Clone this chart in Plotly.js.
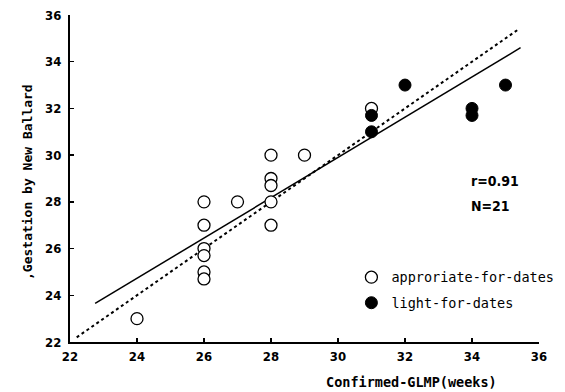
<!DOCTYPE html>
<html>
<head>
<meta charset="utf-8">
<script src="https://cdn.plot.ly/plotly-3.0.1.min.js"></script>
<style>html,body{margin:0;padding:0;background:#fff;}#chart{width:565px;height:392px;}</style>
</head>
<body>
<div id="chart"></div>
<script>
// Data
const approX = [24, 26, 26, 26, 26, 26, 26, 27, 28, 28, 28, 28, 28, 29, 31];
const approY = [23, 28, 27, 26, 25.7, 25, 24.7, 28, 30, 29, 28.7, 28, 27, 30, 32];
const lightX = [31, 31, 32, 34, 34, 35];
const lightY = [31.7, 31, 33, 32, 31.7, 33];
const fitX = [22.75, 35.45];
const fitY = [23.65, 34.6];
const identX = [22.2, 35.4];
const identY = [22.2, 35.4];
const tickVals = [22, 24, 26, 28, 30, 32, 34, 36];
const seriesNames = ['approriate-for-dates', 'light-for-dates'];
const statText = ['r=0.91', 'N=21'];
const xTitle = 'Confirmed-GLMP(weeks)';
const yTitle = ',Gestation by New Ballard';

const monoFont = 'DejaVu Sans Mono, Liberation Mono, monospace';
const condFont = 'DejaVu Sans Condensed, DejaVu Sans, Liberation Sans Narrow, sans-serif';

const traces = [
  {x: identX, y: identY, mode: 'lines', line: {color: '#000', width: 2, dash: '3px,3px'}, showlegend: false, hoverinfo: 'skip'},
  {x: fitX, y: fitY, mode: 'lines', line: {color: '#000', width: 1.5}, showlegend: false, hoverinfo: 'skip'},
  {x: approX, y: approY, mode: 'markers', name: seriesNames[0], legendgroup: 'a',
   marker: {symbol: 'circle', size: 12, color: '#fff', line: {color: '#000', width: 1.3}}},
  {x: lightX, y: lightY, mode: 'markers', name: seriesNames[1], legendgroup: 'b',
   marker: {symbol: 'circle', size: 12, color: '#000', line: {color: '#000', width: 1}}}
];

const axisCommon = {
  range: [22, 36], tickvals: tickVals, ticks: 'inside', ticklen: 4, tickwidth: 1.5, tickcolor: '#000',
  showline: true, linecolor: '#000', linewidth: 2, showgrid: false, zeroline: false,
  tickfont: {family: condFont, size: 13, color: '#000', weight: 'bold'}
};

const layout = {
  width: 565, height: 392,
  margin: {l: 70, r: 26, t: 15, b: 50, autoexpand: false},
  paper_bgcolor: '#fff', plot_bgcolor: '#fff',
  xaxis: Object.assign({}, axisCommon, {ticklabelstandoff: 1}),
  yaxis: Object.assign({}, axisCommon, {ticklabelstandoff: 4}),
  showlegend: true,
  legend: {x: 0.6, y: 0.245, xanchor: 'left', yanchor: 'top', bgcolor: 'rgba(0,0,0,0)',
           tracegroupgap: 5, font: {family: monoFont, size: 13.5, color: '#000'}},
  annotations: [
    {xref: 'paper', yref: 'paper', x: (469 - 70) / 469, y: (342 - 181) / 327, xanchor: 'left', yanchor: 'middle',
     text: statText[0], showarrow: false, font: {family: condFont, size: 14, color: '#000', weight: 'bold'}},
    {xref: 'paper', yref: 'paper', x: (469 - 70) / 469, y: (342 - 206) / 327, xanchor: 'left', yanchor: 'middle',
     text: statText[1], showarrow: false, font: {family: condFont, size: 14, color: '#000', weight: 'bold'}},
    {xref: 'paper', yref: 'paper', x: (411 - 70) / 469, y: -(382 - 342) / 327, xanchor: 'center', yanchor: 'middle',
     text: xTitle, showarrow: false, font: {family: monoFont, size: 13.5, color: '#000', weight: 'bold'}},
    {xref: 'paper', yref: 'paper', x: -(70 - 27) / 469, y: (342 - 182) / 327, xanchor: 'center', yanchor: 'middle',
     text: yTitle, textangle: -90, showarrow: false, font: {family: monoFont, size: 13, color: '#000', weight: 'bold'}}
  ]
};

Plotly.newPlot('chart', traces, layout, {displayModeBar: false, staticPlot: true});
</script>
</body>
</html>
